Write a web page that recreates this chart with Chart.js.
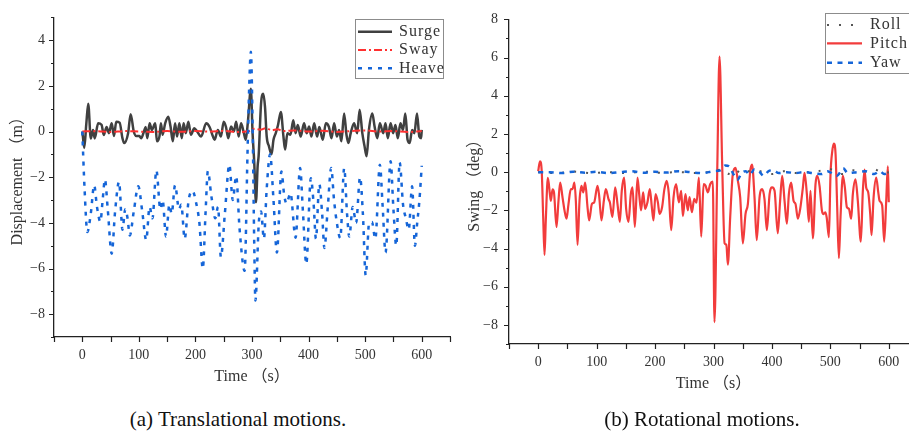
<!DOCTYPE html>
<html>
<head>
<meta charset="utf-8">
<script src="https://cdn.jsdelivr.net/npm/chart.js@4.4.0/dist/chart.umd.min.js"></script>
<style>
  html, body { margin: 0; padding: 0; background: #fff; overflow: hidden; width: 909px; height: 435px; }
  .wrap { position: absolute; top: 0; }
  #wrapA { left: 0; width: 460px; height: 395px; }
  #wrapB { left: 455px; width: 480px; height: 395px; }
  .cap { position: absolute; top: 409px; width: 340px; text-align: center; font: 21px "Liberation Serif", serif; color: #111; line-height: 20px; }
</style>
</head>
<body>
<div class="wrap" id="wrapA"><canvas id="chartA" width="460" height="395"></canvas></div>
<div class="wrap" id="wrapB"><canvas id="chartB" width="480" height="395"></canvas></div>
<div class="cap" style="left:68px">(a) Translational motions.</div>
<div class="cap" style="left:532px">(b) Rotational motions.</div>
<script>
// (a) translational motions, time in s, displacement in m
const surgeT = [0, 1, 3.5, 7, 10.5, 15, 19, 22, 28, 34, 38, 43, 47, 52, 56, 60, 66, 71, 74, 81, 85.5, 91, 95.5, 101, 104, 109, 112, 115, 119, 123, 129, 132, 136.5, 139, 142, 146.5, 152, 156, 160, 164, 167.5, 171.6, 176, 179, 183, 187.5, 192, 198, 203, 210, 219, 225, 231, 234, 239.6, 245, 250, 254, 258, 263, 268, 272, 276.5, 280.6, 285, 289, 293, 298, 301, 304, 307, 310, 311.7, 316, 320, 323, 326, 330, 334.5, 338, 342, 346, 351, 355.6, 358.5, 362.6, 368, 373, 377, 381, 386, 392, 396.6, 401, 405, 410, 415, 419, 425, 430.6, 436, 440.5, 445.2, 450, 454, 458, 462.8, 467, 470.4, 474.5, 480.4, 486, 490.3, 495, 499, 502.6, 506.7, 512.6, 516.7, 521.4, 526, 532, 536, 540, 545, 549.5, 553.6, 557.7, 562.4, 567, 571, 575, 578.8, 583, 587, 591.7, 595.8, 599, 600];
const surgeV = [0, -0.2, -0.72, 0.3, 1.22, -0.3, 0.07, -0.3, 0.36, 0.3, -0.15, 0.2, -0.07, 0.36, -0.2, 0.43, 0.39, -0.29, -0.5, -0.07, 0.76, 0, -0.2, -0.2, -0.29, 0, 0.2, -0.29, 0.36, 0.07, 0.36, -0.43, -0.2, 0.36, -0.14, 0.36, 0.65, 0.22, -0.43, 0.36, -0.22, 0.36, -0.29, 0.36, -0.07, 0.43, -0.14, 0.14, 0, -0.22, 0.36, 0.2, -0.22, -0.36, 0.07, -0.22, 0.43, 0.2, -0.29, 0.22, 0, 0.43, -0.22, 0.36, 0, -0.36, 0.5, 1.87, -0.07, -1.37, -3.1, -1.5, -1.08, 1.22, 1.66, 1.08, -0.22, -0.65, -1.0, -0.36, -0.07, 0.29, 0.86, -0.22, -0.79, -0.07, -0.14, 0.5, -0.07, 0.29, -0.22, 0.36, -0.07, 0.22, -0.22, 0.36, -0.22, 0.2, -0.36, 0.36, 0.2, -0.29, 0.36, -0.22, 0.07, -0.43, 0.79, -0.14, -0.5, -0.07, 0.36, -0.07, 0.96, -0.07, -0.65, -1.08, 0.07, 0.79, 0.22, -0.29, 0.36, -0.07, 0.36, -0.29, 0.36, -0.07, 0.29, -0.29, 0.36, 0.07, 0.79, -0.36, -0.5, 0.07, -0.07, 0.79, -0.22, -0.29, 0.07];

const swayT = [0, 25, 50, 75, 100, 125, 150, 175, 200, 225, 250, 275, 295, 305, 315, 325, 335, 345, 355, 375, 400, 425, 450, 475, 500, 525, 550, 575, 600];
const swayV = [0, 0.02, -0.02, 0.02, 0, -0.02, 0.02, -0.01, 0.02, 0, 0.03, -0.02, 0.02, 0.12, 0.08, 0.15, 0.05, 0.1, 0.02, 0.05, 0, 0.03, -0.02, 0.02, 0.05, 0, 0.02, -0.02, 0.02];

const heaveT = [0, 4, 9, 15, 21, 26, 32, 36, 40, 45, 52, 58, 65, 71, 76, 80, 84, 91, 99, 106, 113, 119, 124, 131, 138, 142, 148, 154, 158, 164, 171, 175, 181, 188, 195, 201, 207, 213, 218, 222, 228, 235, 240, 245, 252, 260, 266, 272, 278, 287, 292, 295, 298, 301, 304, 306, 312, 316, 321, 326, 332, 338, 344, 352, 357, 361, 368, 377, 385, 390, 396, 404, 409, 413, 419, 424, 428, 434, 440, 445, 450, 456, 463, 468, 472, 478, 484, 491, 496, 501, 507, 512, 518, 526, 531, 536, 545, 550, 555, 561, 567, 572, 577, 583, 588, 592, 596, 600];
const heaveV = [0, -2.5, -4.4, -3.6, -2.35, -3.3, -3.95, -3.0, -2.1, -3.4, -5.35, -3.5, -2.2, -4.3, -3.4, -3.8, -4.55, -3.5, -2.4, -3.5, -4.75, -3.3, -3.8, -1.7, -3.4, -3.0, -4.6, -3.2, -3.6, -2.35, -3.4, -3.2, -4.7, -3.0, -2.6, -3.1, -4.0, -6.0, -3.5, -1.73, -2.8, -3.8, -3.3, -5.5, -3.6, -1.45, -3.0, -1.95, -4.25, -6.1, -1.0, 1.9, 3.5, 0.4, -5.0, -7.4, -4.0, -3.5, -4.7, -2.5, -1.0, -3.0, -5.3, -1.75, -2.8, -3.15, -2.7, -4.65, -1.6, -3.5, -5.8, -2.05, -3.2, -4.7, -2.3, -3.6, -5.1, -3.3, -1.6, -3.0, -4.0, -4.67, -1.6, -3.6, -4.6, -3.3, -4.0, -2.0, -3.6, -6.3, -4.0, -3.96, -4.7, -1.45, -3.3, -5.3, -1.3, -3.4, -5.0, -1.35, -3.2, -3.8, -4.3, -2.4, -5.0, -4.0, -3.0, -1.5];

// (b) rotational motions, swing in deg
const rollT = [0, 30, 60, 90, 120, 150, 180, 210, 240, 270, 300, 315, 325, 335, 350, 365, 380, 400, 420, 440, 460, 480, 495, 505, 520, 540, 560, 575, 590, 600];
const rollV = [0, -0.05, 0.03, -0.05, 0, -0.05, 0.03, -0.03, 0, -0.05, 0.05, 0.15, -0.1, 0.15, -0.1, 0.1, 0.05, -0.1, 0.05, -0.05, 0, 0.05, 0.2, 0.1, -0.1, 0.1, 0.05, 0.15, -0.05, 0];

const pitchT = [0, 3, 6, 8.5, 10.8, 13, 16.5, 20, 21.6, 24.5, 27, 31.3, 34.7, 37.6, 41.6, 45, 48.4, 51.8, 55.8, 58.7, 62, 64.4, 67.3, 70.7, 74, 77, 80.4, 84.4, 87.2, 91.8, 95.8, 101.5, 104.3, 108.3, 112.3, 115.7, 120.3, 122.6, 127, 131.7, 135.7, 139.7, 143, 147, 150.5, 154.5, 158.5, 161.4, 165.4, 169.9, 172.8, 176, 179.6, 183, 187, 191, 194.5, 197.3, 200.8, 204.8, 207.6, 212, 216, 220, 223.6, 227.6, 231.6, 236, 240.7, 244.7, 247.6, 252, 256, 259, 263, 267, 271, 275, 279, 283, 286.3, 290.3, 294.3, 298.8, 301.7, 306.3, 310.3, 315, 319, 322, 324.6, 328.6, 333, 337.7, 341.7, 345.7, 350.2, 354.8, 358.8, 362.8, 366, 370.2, 374, 378.8, 383.3, 387.3, 391.3, 396, 400.5, 404.5, 410, 414, 417.6, 421.6, 425.6, 429, 433, 437, 440.4, 444.4, 448.4, 453, 455.8, 459.8, 463.2, 466, 470, 474.6, 477.5, 481.5, 485.5, 488.3, 491.7, 494, 497.5, 500.3, 503.2, 506, 509, 511.7, 514.6, 517.4, 521.4, 524.8, 528.3, 531.7, 535.7, 538.5, 543, 547, 552.2, 555.6, 558.5, 561.3, 564.8, 568.2, 570.5, 574, 578.5, 582, 584.2, 588.7, 592.1, 595.6, 598.4, 600];
const pitchV = [0.05, 0.57, 0.05, -2.35, -4.33, -2.5, -0.3, -1.15, -1.5, -0.9, -1.06, -2.87, -1.5, -0.55, -1.32, -2.0, -2.44, -1.67, -0.89, -0.89, -0.55, -1.5, -3.81, -1.5, -0.72, -1.06, -0.55, -1.84, -2.53, -1.67, -1.58, -0.72, -1.24, -2.53, -1.5, -0.89, -1.41, -1.58, -2.35, -0.8, -1.67, -2.6, -0.98, -0.29, -1.92, -2.6, -1.15, -0.8, -2.87, -0.29, -1.15, -2.0, -1.06, -1.92, -1.58, -0.89, -1.84, -2.53, -1.15, -1.58, -2.18, -1.84, -0.89, -0.46, -1.15, -3.04, -1.32, -0.63, -1.58, -0.98, -2.3, -1.15, -2.0, -1.3, -2.1, -1.4, -1.6, -0.29, -3.38, -0.63, -0.7, -1.06, -0.63, -0.5, -7.85, -0.1, 6.05, 0.2, -3.73, -3.8, -4.84, -2.35, -0.12, 0.22, -0.46, -1.32, -3.73, -2.18, -1.67, 0.05, 0.4, -1.32, -3.56, -1.32, -0.89, -1.41, -3.04, -1.15, -0.8, -0.98, -3.2, -1.5, -0.2, -1.5, -2.7, -1.15, -0.55, -1.5, -1.67, -2.44, -1.92, -0.8, -0.03, -1.15, -2.6, -0.98, -3.47, -0.63, -0.2, -0.72, -2.0, -2.2, -2.1, -2.44, -3.4, -0.1, 1.08, 1.5, 0.9, -1.84, -4.5, -2.35, -0.2, -0.8, -1.84, -1.92, -2.44, -1.15, -0.38, -1.5, -3.64, -0.98, 0.14, -0.8, -1.06, -2.18, -3.3, -1.32, -0.29, -1.06, -1.5, -1.75, -3.64, -1.5, 0.3, -1.58];

const yawT = [0, 20, 40, 60, 80, 100, 120, 140, 160, 180, 200, 220, 240, 260, 280, 300, 312, 320, 327, 334, 341, 348, 355, 362, 370, 378, 386, 394, 402, 412, 425, 440, 455, 470, 485, 495, 505, 511, 517, 522, 530, 545, 560, 575, 585, 592, 600];
const yawV = [0, 0, -0.05, 0.02, -0.03, 0.02, -0.05, 0, 0.05, -0.03, 0.02, -0.02, 0.05, 0, -0.05, 0.05, 0.1, 0.35, 0.3, -0.1, -0.4, -0.05, 0.05, -0.15, 0.15, 0.05, -0.2, 0.05, 0.1, -0.05, 0, -0.05, 0, -0.05, -0.1, 0.05, -0.1, -0.2, 0, 0.2, -0.05, 0, 0.05, -0.1, 0.05, -0.1, 0];

function pts(ts, vs) {
  return ts.map((t, i) => ({ x: t, y: vs[i] }));
}
function lbl(v) {
  return v < 0 ? "\u2212" + Math.abs(v) : String(v);
}

const TXT = "#333";
const SERIF = "'Liberation Serif', 'Noto Sans CJK SC', serif";

// tick marks drawn by hand so the y axis gets short minor ticks
const tickMarks = {
  id: "tickMarks",
  afterDraw(chart) {
    const ctx = chart.ctx;
    const xs = chart.scales.x;
    const ys = chart.scales.y;
    ctx.save();
    ctx.strokeStyle = "#222";
    ctx.lineWidth = 1.2;
    ctx.beginPath();
    xs.ticks.forEach(t => {
      const px = Math.round(xs.getPixelForValue(t.value)) + 0.5;
      ctx.moveTo(px, xs.top);
      ctx.lineTo(px, xs.top + 5);
    });
    ys.ticks.forEach(t => {
      const py = Math.round(ys.getPixelForValue(t.value)) + 0.5;
      const len = t.value % 2 === 0 ? 5 : 3;
      ctx.moveTo(ys.right, py);
      ctx.lineTo(ys.right - len, py);
    });
    ctx.stroke();
    ctx.restore();
  }
};

// legend box inside the plot
const boxLegend = {
  id: "boxLegend",
  afterDatasetsDraw(chart, args, o) {
    const ctx = chart.ctx;
    ctx.save();
    ctx.fillStyle = "#fff";
    ctx.strokeStyle = "#8c8c8c";
    ctx.lineWidth = 1;
    ctx.fillRect(o.x, o.y, o.w, o.h);
    ctx.strokeRect(o.x, o.y, o.w, o.h);
    ctx.font = "16px " + SERIF;
    ctx.letterSpacing = "1px";
    ctx.textBaseline = "middle";
    chart.data.datasets.forEach((ds, k) => {
      const y = o.rows[k];
      ctx.beginPath();
      ctx.setLineDash(ds.borderDash || []);
      ctx.strokeStyle = ds.borderColor;
      ctx.lineWidth = ds.borderWidth;
      ctx.moveTo(o.x0, y);
      ctx.lineTo(o.x1, y);
      ctx.stroke();
      ctx.setLineDash([]);
      ctx.fillStyle = TXT;
      ctx.fillText(ds.label, o.tx, y);
    });
    ctx.restore();
  }
};

function scales(yMin, yMax, yTitle, yTitlePad, yLabPad, xHeight, xTitlePad) {
  return {
    x: {
      type: "linear",
      min: -50,
      max: 650,
      afterFit: s => { s.height = xHeight; },
      border: { display: true, color: "#222", width: 1.3 },
      grid: { display: true, drawOnChartArea: false, drawTicks: false },
      ticks: {
        stepSize: 50,
        autoSkip: false,
        maxRotation: 0,
        padding: 10,
        color: TXT,
        font: { family: SERIF, size: 14 },
        callback: v => (v % 100 === 0 && v >= 0 && v <= 600 ? String(v) : "")
      },
      title: {
        display: true,
        text: "Time （s）",
        color: TXT,
        font: { family: SERIF, size: 16 },
        padding: { top: 0, bottom: xTitlePad }
      }
    },
    y: {
      min: yMin,
      max: yMax,
      afterFit: s => { s.width = 54; },
      border: { display: true, color: "#222", width: 1.3 },
      grid: { display: true, drawOnChartArea: false, drawTicks: false },
      ticks: {
        stepSize: 1,
        autoSkip: false,
        padding: yLabPad,
        color: TXT,
        font: { family: SERIF, size: 14 },
        callback: v => (v % 2 === 0 ? lbl(v) : "")
      },
      title: {
        display: true,
        text: yTitle,
        color: TXT,
        font: { family: SERIF, size: 16 },
        padding: { top: yTitlePad, bottom: 0 }
      }
    }
  };
}

const lineBase = {
  pointRadius: 0,
  fill: false,
  tension: 0.4,
  cubicInterpolationMode: "monotone"
};

new Chart(document.getElementById("chartA").getContext("2d"), {
  type: "line",
  data: {
    datasets: [
      Object.assign({ label: "Surge", data: pts(surgeT, surgeV), borderColor: "#404040", borderWidth: 2.5, order: 3 }, lineBase),
      Object.assign({ label: "Sway", data: pts(swayT, swayV), borderColor: "#ff3030", borderWidth: 2, borderDash: [8, 3, 2, 3], order: 2 }, lineBase),
      Object.assign({ label: "Heave", data: pts(heaveT, heaveV), borderColor: "#1565d8", borderWidth: 2.5, borderDash: [4, 6], order: 1 }, lineBase)
    ]
  },
  options: {
    responsive: false,
    animation: false,
    layout: { padding: { top: 13, right: 8, left: 0, bottom: 0 } },
    plugins: {
      legend: { display: false },
      tooltip: { enabled: false },
      boxLegend: { x: 355.5, y: 19.5, w: 88, h: 59, rows: [31.7, 50, 68.3], x0: 358, x1: 392, tx: 399 }
    },
    scales: scales(-9, 5, "Displacement （m）", 8, 9, 58, 9)
  },
  plugins: [tickMarks, boxLegend]
});

new Chart(document.getElementById("chartB").getContext("2d"), {
  type: "line",
  data: {
    datasets: [
      Object.assign({ label: "Roll", data: pts(rollT, rollV), borderColor: "#555555", borderWidth: 2, borderDash: [2, 10], order: 2 }, lineBase),
      Object.assign({ label: "Pitch", data: pts(pitchT, pitchV), borderColor: "#f23c3c", borderWidth: 2.2, order: 3 }, lineBase),
      Object.assign({ label: "Yaw", data: pts(yawT, yawV), borderColor: "#1565d8", borderWidth: 2.5, borderDash: [5, 5.5], order: 1 }, lineBase)
    ]
  },
  options: {
    responsive: false,
    animation: false,
    layout: { padding: { top: 13, right: 17, left: 0, bottom: 0 } },
    plugins: {
      legend: { display: false },
      tooltip: { enabled: false },
      boxLegend: { x: 370.5, y: 13.5, w: 120, h: 60, rows: [25, 43.3, 62.7], x0: 372, x1: 407, tx: 415 }
    },
    scales: scales(-9, 8, "Swing （deg）", 10, 11, 51, 2)
  },
  plugins: [tickMarks, boxLegend]
});
</script>
</body>
</html>
